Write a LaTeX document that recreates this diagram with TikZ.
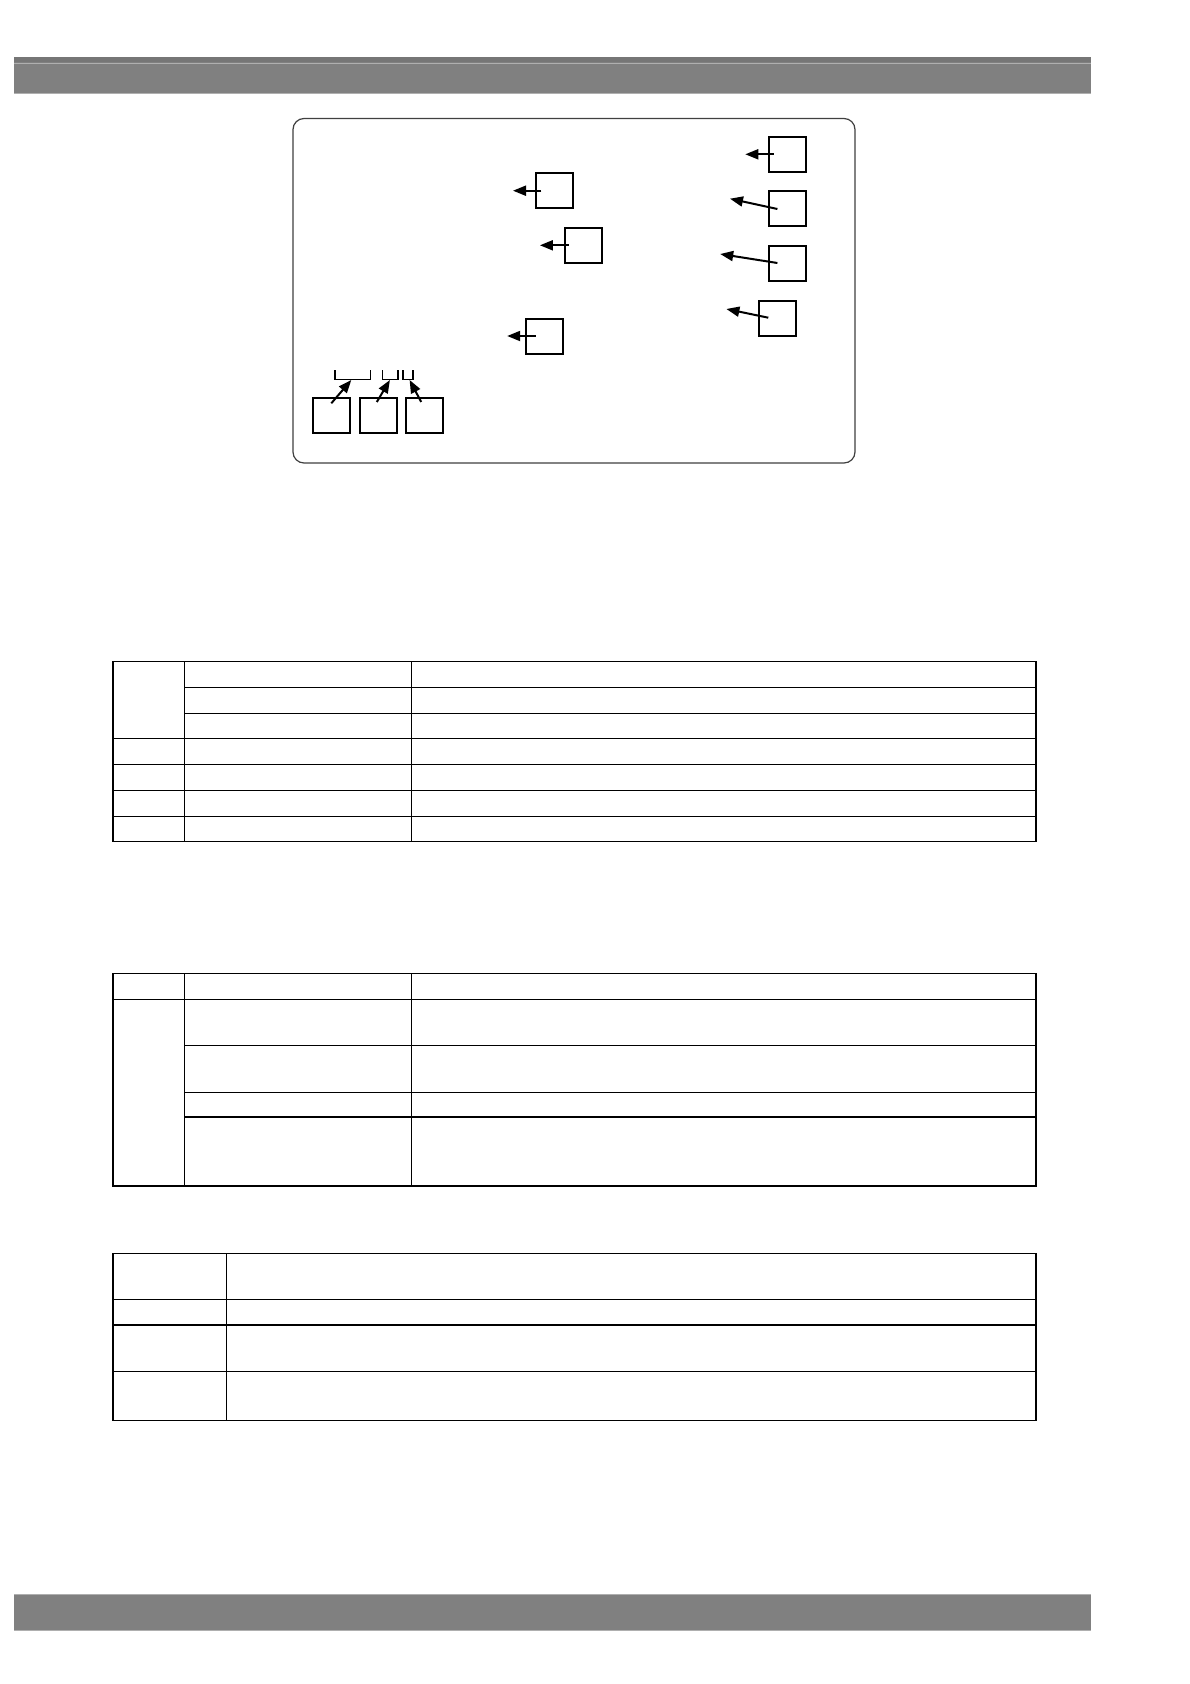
\documentclass[tikz,border=0pt]{standalone}
\usetikzlibrary{arrows.meta}
\definecolor{bargray}{RGB}{128,128,128}
\definecolor{bardark}{RGB}{118,118,118}
\definecolor{barlight}{RGB}{175,175,175}
\begin{document}
\begin{tikzpicture}[x=1pt,y=-1pt,
  sq/.style={draw=black,line width=2pt,minimum width=37pt,minimum height=35pt,inner sep=0pt},
  pointer/.style={line width=2pt,-{Triangle[length=13pt,width=10pt]}},
  brk/.style={line width=1.6pt},
  grid/.style={line width=1.3pt},
  panel/.style={draw=black!75,line width=1.2pt,rounded corners=11pt}]
\useasboundingbox[fill=white] (0,0) rectangle (1190,1684);
% header and footer bars
\fill[bargray] (14,57) rectangle (1091,93);
\fill[bardark] (14,57) rectangle (1091,62);
\draw[barlight,line width=1pt] (14,63.3) -- (1091,63.3);
\draw[barlight,line width=0.8pt] (14,93) -- (1091,93);
\fill[bargray] (14,1594) rectangle (1091,1630);
\draw[barlight,line width=0.8pt] (14,1594) -- (1091,1594);
\draw[barlight,line width=0.8pt] (14,1630) -- (1091,1630);
% panel
\draw[panel] (293,118.5) rectangle (855,463);
% boxes
\node[sq] (r1) at (787.0,154.3) {};
\node[sq] (r2) at (787.0,208.5) {};
\node[sq] (r3) at (787.0,263) {};
\node[sq] (r4) at (777.6,318) {};
\node[sq] (a) at (554.7,190.5) {};
\node[sq] (b) at (583.6,245) {};
\node[sq] (c) at (544.7,336) {};
\node[sq] (l1) at (331.5,415.7) {};
\node[sq] (l2) at (378.4,415.7) {};
\node[sq] (l3) at (424.7,415.7) {};
% pointer ends
\coordinate (r1t) at (773.7,154.3); \coordinate (r1h) at (745.3,154.3);
\coordinate (r2t) at (777.4,209);   \coordinate (r2h) at (730.0,198.7);
\coordinate (r3t) at (777.4,263);   \coordinate (r3h) at (720.2,254);
\coordinate (r4t) at (768.3,317.7); \coordinate (r4h) at (726.4,309);
\coordinate (at) at (541.4,190.7);  \coordinate (ah) at (513.0,190.7);
\coordinate (bt) at (568.7,245.3);  \coordinate (bh) at (539.9,245.3);
\coordinate (ct) at (535.9,336);    \coordinate (ch) at (507.2,336);
\coordinate (l1t) at (331.3,403.3); \coordinate (l1h) at (351.3,380);
\coordinate (l2t) at (376.8,402);   \coordinate (l2h) at (389.9,380);
\coordinate (l3t) at (421.2,402);   \coordinate (l3h) at (409.6,380);
\draw[pointer] (r1t) -- (r1h);
\draw[pointer] (r2t) -- (r2h);
\draw[pointer] (r3t) -- (r3h);
\draw[pointer] (r4t) -- (r4h);
\draw[pointer] (at) -- (ah);
\draw[pointer] (bt) -- (bh);
\draw[pointer] (ct) -- (ch);
\draw[pointer] (l1t) -- (l1h);
\draw[pointer] (l2t) -- (l2h);
\draw[pointer] (l3t) -- (l3h);
% brackets
\draw[brk] (334.9,370) -- (334.9,379.3) -- (370.6,379.3) -- (370.6,370);
\draw[brk] (382.3,370) -- (382.3,379.3) -- (397.9,379.3) -- (397.9,370);
\draw[brk] (403.0,370) -- (403.0,379.3) -- (413.2,379.3) -- (413.2,370);
% table 1
\draw[grid] (113,661.7) rectangle (1036,841.3);
\draw[grid] (184.5,661.7) -- (184.5,841.3);
\draw[grid] (411.5,661.7) -- (411.5,841.3);
\draw[grid] (184.5,687.3) -- (1036,687.3);
\draw[grid] (184.5,713.3) -- (1036,713.3);
\draw[grid] (113,738.3) -- (1036,738.3);
\draw[grid] (113,764.3) -- (1036,764.3);
\draw[grid] (113,790.3) -- (1036,790.3);
\draw[grid] (113,816.3) -- (1036,816.3);
% table 2
\draw[grid] (113,973.5) rectangle (1036,1186);
\draw[grid] (184.5,973.5) -- (184.5,1186);
\draw[grid] (411.5,973.5) -- (411.5,1186);
\draw[grid] (113,999.3) -- (1036,999.3);
\draw[grid] (184.5,1045.3) -- (1036,1045.3);
\draw[grid] (184.5,1092.3) -- (1036,1092.3);
\draw[grid] (184.5,1117) -- (1036,1117);
% table 3
\draw[grid] (113,1253.4) rectangle (1036,1420.3);
\draw[grid] (226.5,1253.4) -- (226.5,1420.3);
\draw[grid] (113,1299.4) -- (1036,1299.4);
\draw[grid] (113,1325) -- (1036,1325);
\draw[grid] (113,1371.2) -- (1036,1371.2);
\end{tikzpicture}
\end{document}
